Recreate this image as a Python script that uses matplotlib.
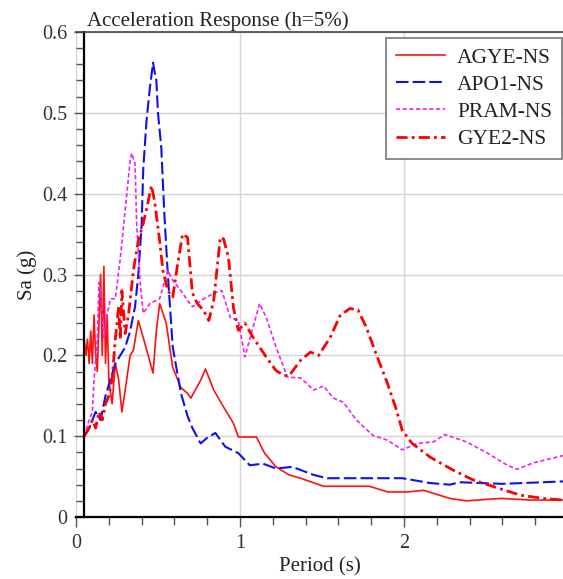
import matplotlib
matplotlib.use("Agg")
import matplotlib.pyplot as plt
from matplotlib.ticker import MultipleLocator

plt.rcParams['font.family'] = ['Liberation Serif', 'DejaVu Serif']

# Response spectra (period in s, Sa in g)
agye_t = [0.05, 0.05, 0.06, 0.07, 0.08, 0.09, 0.10, 0.11, 0.12, 0.13, 0.14, 0.15, 0.16,
          0.17, 0.18, 0.19, 0.20, 0.22, 0.24, 0.26, 0.28, 0.30, 0.33, 0.35, 0.38, 0.41,
          0.44, 0.47, 0.49, 0.51, 0.55, 0.59, 0.64, 0.68, 0.70, 0.76, 0.79, 0.84, 0.90,
          0.96, 0.99, 1.10, 1.15, 1.22, 1.30, 1.37, 1.51, 1.79, 1.90, 2.02, 2.12, 2.28,
          2.38, 2.59, 2.77, 2.97]
agye_sa = [0.10, 0.22, 0.20, 0.22, 0.19, 0.23, 0.19, 0.25, 0.20, 0.18, 0.24, 0.30, 0.20,
           0.31, 0.19, 0.25, 0.17, 0.14, 0.19, 0.17, 0.13, 0.157, 0.20, 0.206, 0.243, 0.222,
           0.20, 0.178, 0.23, 0.264, 0.24, 0.185, 0.16, 0.153, 0.147, 0.169, 0.183, 0.157, 0.136,
           0.116, 0.099, 0.099, 0.079, 0.062, 0.052, 0.048, 0.038, 0.038, 0.031, 0.031, 0.033, 0.023,
           0.020, 0.023, 0.021, 0.021]

apo1_t = [0.05, 0.08, 0.10, 0.12, 0.15, 0.18, 0.21, 0.24, 0.27, 0.30, 0.33, 0.36, 0.38,
          0.40, 0.41, 0.43, 0.45, 0.47, 0.48, 0.49, 0.50, 0.52, 0.54, 0.56, 0.59, 0.64,
          0.68, 0.71, 0.76, 0.80, 0.85, 0.91, 0.99, 1.06, 1.14, 1.22, 1.32, 1.45, 1.53,
          1.99, 2.16, 2.28, 2.34, 2.60, 2.97]
apo1_sa = [0.10, 0.11, 0.12, 0.13, 0.12, 0.15, 0.17, 0.19, 0.20, 0.21, 0.23, 0.26, 0.30,
           0.36, 0.43, 0.49, 0.53, 0.562, 0.55, 0.54, 0.50, 0.457, 0.37, 0.30, 0.21, 0.153,
           0.125, 0.11, 0.091, 0.098, 0.104, 0.087, 0.079, 0.064, 0.066, 0.060, 0.062, 0.052, 0.048,
           0.048, 0.042, 0.040, 0.043, 0.041, 0.044]

pram_t = [0.05, 0.08, 0.10, 0.11, 0.13, 0.14, 0.15, 0.17, 0.19, 0.21, 0.24, 0.27, 0.29,
          0.31, 0.33, 0.34, 0.36, 0.37, 0.39, 0.41, 0.45, 0.51, 0.56, 0.59, 0.64, 0.68,
          0.71, 0.78, 0.84, 0.89, 0.94, 0.99, 1.03, 1.08, 1.12, 1.16, 1.22, 1.29, 1.37,
          1.45, 1.51, 1.57, 1.63, 1.71, 1.81, 1.90, 1.99, 2.08, 2.18, 2.25, 2.38, 2.51,
          2.63, 2.69, 2.79, 2.97]
pram_sa = [0.10, 0.12, 0.13, 0.17, 0.22, 0.29, 0.28, 0.22, 0.25, 0.27, 0.27, 0.32, 0.36,
           0.40, 0.44, 0.45, 0.437, 0.363, 0.293, 0.252, 0.264, 0.27, 0.305, 0.293, 0.28, 0.268,
           0.26, 0.27, 0.277, 0.28, 0.247, 0.243, 0.198, 0.235, 0.264, 0.247, 0.21, 0.173, 0.172,
           0.157, 0.162, 0.147, 0.142, 0.12, 0.101, 0.095, 0.083, 0.091, 0.093, 0.102, 0.093, 0.079,
           0.064, 0.059, 0.067, 0.076]

gye2_t = [0.05, 0.08, 0.10, 0.12, 0.14, 0.16, 0.18, 0.20, 0.22, 0.24, 0.26, 0.27, 0.28,
          0.30, 0.32, 0.35, 0.38, 0.41, 0.44, 0.46, 0.48, 0.51, 0.53, 0.56, 0.59, 0.62,
          0.65, 0.68, 0.71, 0.74, 0.78, 0.81, 0.84, 0.88, 0.90, 0.93, 0.96, 0.99, 1.03,
          1.08, 1.16, 1.22, 1.27, 1.30, 1.37, 1.43, 1.48, 1.55, 1.61, 1.67, 1.72, 1.77,
          1.83, 1.90, 1.95, 1.99, 2.05, 2.16, 2.30, 2.42, 2.57, 2.71, 2.85, 2.97]
gye2_sa = [0.10, 0.11, 0.12, 0.11, 0.13, 0.12, 0.14, 0.15, 0.17, 0.22, 0.26, 0.22, 0.28,
           0.227, 0.25, 0.305, 0.342, 0.363, 0.39, 0.41, 0.39, 0.342, 0.305, 0.28, 0.272, 0.313,
           0.35, 0.346, 0.277, 0.264, 0.255, 0.243, 0.268, 0.346, 0.344, 0.321, 0.259, 0.231, 0.24,
           0.222, 0.198, 0.181, 0.175, 0.175, 0.194, 0.204, 0.20, 0.222, 0.249, 0.258, 0.256, 0.235,
           0.202, 0.165, 0.135, 0.107, 0.091, 0.074, 0.058, 0.046, 0.036, 0.027, 0.023, 0.021]

fig = plt.figure(figsize=(5.63, 5.79), dpi=100)
ax = fig.add_axes([76 / 563, 1 - 517 / 579, 487 / 563, 485 / 579])

ax.plot(agye_t, agye_sa, color='#ff1010', lw=1.2, label='AGYE-NS')
ax.plot(apo1_t, apo1_sa, color='#1010ee', lw=1.5, linestyle=(0, (6, 2)), label='APO1-NS')
ax.plot(pram_t, pram_sa, color='#ee22ee', lw=1.2, linestyle=(0, (2.5, 1.5)), label='PRAM-NS')
ax.plot(gye2_t, gye2_sa, color='#ff0000', lw=2.0, linestyle=(0, (4, 1.5, 1, 1.5)), label='GYE2-NS')

ax.set_xlim(0, 2.97)
ax.set_ylim(0, 0.6)

ax.xaxis.set_major_locator(MultipleLocator(1))
ax.xaxis.set_minor_locator(MultipleLocator(0.2))
ax.yaxis.set_minor_locator(MultipleLocator(0.02))
ax.set_yticks([0, 0.1, 0.2, 0.3, 0.4, 0.5, 0.6])
ax.set_yticklabels(['0', '0.1', '0.2', '0.3', '0.4', '0.5', '0.6'])

ax.spines['left'].set_position(('data', 0.05))
ax.spines['left'].set_linewidth(1.6)
ax.spines['left'].set_color('black')
ax.spines['bottom'].set_linewidth(1.6)
ax.spines['bottom'].set_color('black')
ax.spines['top'].set_linewidth(1.2)
ax.spines['top'].set_color('#444444')
ax.spines['right'].set_visible(False)

ax.tick_params(axis='both', which='major', direction='out', length=7, width=1,
               color='#555555', labelsize=14.5, labelcolor='#333333', pad=5)
ax.tick_params(axis='both', which='minor', direction='out', length=6, width=1,
               color='#555555')

ax.grid(True, which='major', color='#d4d4d4', lw=1.0)
ax.set_axisbelow(True)

ax.set_xlabel('Period (s)', fontsize=15, color='#222222', labelpad=3)
ax.set_ylabel('Sa (g)', fontsize=15, color='#222222', labelpad=4)
fig.text(87 / 563, 1 - 26 / 579, 'Acceleration Response (h=5%)', fontsize=15,
         color='#222222', ha='left', va='baseline')

leg = ax.legend(loc='upper right', bbox_to_anchor=(0.998, 0.988), borderaxespad=0,
                fontsize=15.5, frameon=True, fancybox=False, framealpha=1,
                edgecolor='#777777', handlelength=2.3, handletextpad=0.55,
                labelspacing=0.33, borderpad=0.45)
leg.get_frame().set_linewidth(1.2)
for t in leg.get_texts():
    t.set_color('#222222')

fig.savefig('out.png', dpi=100)
